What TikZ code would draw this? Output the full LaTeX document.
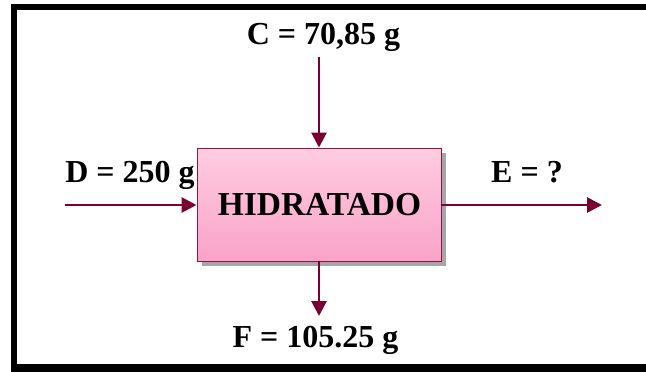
\documentclass[tikz,border=0pt]{standalone}
\usepackage{fontspec}
\setmainfont{Liberation Serif}
\usetikzlibrary{arrows.meta,shadows}
\definecolor{flow}{RGB}{122,0,50}
\definecolor{pinktop}{RGB}{255,204,224}
\definecolor{pinkbot}{RGB}{249,163,200}
\definecolor{boxedge}{RGB}{140,20,70}
\tikzset{
  lbl/.style={font=\fontsize{32}{36}\selectfont\bfseries, inner sep=0pt, anchor=base},
  flowarrow/.style={draw=flow, line width=2.8pt, -{Triangle[length=15pt,width=15pt]}},
  procbox/.style={draw=boxedge, line width=0.9pt, top color=pinktop, bottom color=pinkbot,
    minimum width=244pt, minimum height=113pt, inner sep=0pt,
    drop shadow={shadow xshift=4.5pt, shadow yshift=-4.5pt, fill=black!35, opacity=1}}
}
\begin{document}
\begin{tikzpicture}[x=1pt,y=-1pt]
\useasboundingbox (0,0) rectangle (646,372);
\clip (0,0) rectangle (646,372);
% frame
\draw[line width=6pt] (14,7) -- (700,7);
\draw[line width=6pt] (14,4) -- (14,371);
\draw[line width=8pt] (11,368) -- (700,368);
% process box
\node[procbox] (b) at (319,204.5) {};
\node[lbl, font=\fontsize{33.5}{38}\selectfont\bfseries] (t) at (319.5,215) {HIDRATADO};
% free ends
\coordinate (cs) at (319,57);
\coordinate (ds) at (65,205);
\coordinate (ee) at (602,205);
\coordinate (fe) at (319,316);
% arrows
\draw[flowarrow] (cs) -- (cs |- b.north);
\draw[flowarrow] (ds) -- (ds -| b.west);
\draw[flowarrow] (ee -| b.east) -- (ee);
\draw[flowarrow] (fe |- b.south) -- (fe);
% labels
\node[lbl] (lc) at (323.5,45) {C = 70,85 g};
\node[lbl] (ld) at (130,182) {D = 250 g};
\node[lbl] (le) at (527,182) {E = ?};
\node[lbl] (lf) at (315.5,347) {F = 105.25 g};
\end{tikzpicture}
\end{document}
